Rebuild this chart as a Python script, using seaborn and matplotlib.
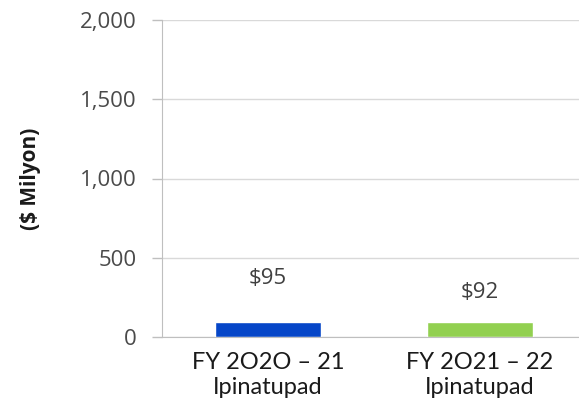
import matplotlib
matplotlib.use("Agg")
import matplotlib.pyplot as plt
import seaborn as sns
import pandas as pd

# data
categories = ['FY 2O2O – 21\nIpinatupad', 'FY 2O21 – 22\nIpinatupad']
values = [95, 92]
value_labels = ['$95', '$92']
bar_colors = ['#0646c8', '#92d050']
y_ticks = [0, 500, 1000, 1500, 2000]

sns.set_style('white')
plt.rcParams['font.family'] = ['Open Sans', 'DejaVu Sans']

df = pd.DataFrame({'cat': categories, 'val': values})

fig = plt.figure(figsize=(5.79, 4.08), dpi=100)
ax = fig.add_axes([0.2798, 0.174, 0.732, 0.777])

sns.barplot(data=df, x='cat', y='val', hue='cat', palette=bar_colors,
            width=0.5, legend=False, ax=ax, saturation=1)

ax.set_ylim(0, 2000)
ax.set_xlim(-0.5, 1.5)
ax.set_yticks(y_ticks)
ax.set_yticklabels([f'{t:,}' for t in y_ticks], fontsize=16, color='#4a4a4a')
ax.set_xticks(range(len(categories)))
ax.set_xticklabels(categories, fontsize=17, color='#1a1a1a',
                   family=['Lato', 'DejaVu Sans'], linespacing=1.2)
ax.tick_params(axis='x', length=0, pad=11)
ax.set_xticks([0.5], minor=True)
ax.tick_params(axis='x', which='minor', length=6, color='#bfbfbf', width=1)
ax.tick_params(axis='y', length=7, color='#bfbfbf', width=1, pad=11, left=True)

ax.grid(axis='y', color='#d9d9d9', linewidth=1)
ax.set_axisbelow(True)
for s in ['top', 'right']:
    ax.spines[s].set_visible(False)
ax.spines['left'].set_color('#bfbfbf')
ax.spines['bottom'].set_color('#bfbfbf')

ax.set_xlabel('')
ax.set_ylabel('($ Milyon)', fontsize=15, fontweight='bold', color='#1a1a1a', labelpad=28)

# value labels (sit above bars, offsets as in the source)
label_offsets = [277, 186]
for i, (v, lab) in enumerate(zip(values, value_labels)):
    ax.text(i, v + label_offsets[i], lab, ha='center', va='center',
            fontsize=16, color='#404040')

fig.savefig('out.png', dpi=100)
